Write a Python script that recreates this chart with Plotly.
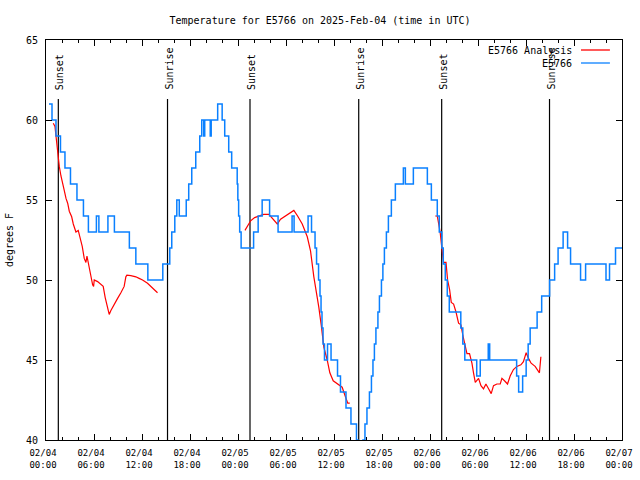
import pandas as pd
import plotly.graph_objects as go

BASE = pd.Timestamp("2025-02-04 00:00")

# Observations (E5766): hours since 2025-02-04 00:00 UTC where value changes, and value (deg F)
obs_hours = [0.37, 0.75, 1.25, 1.81, 2.37, 3.06, 3.87, 4.68, 5.30, 6.30, 6.61, 7.74, 8.55,
             10.42, 11.23, 12.73, 14.60, 15.47, 15.72, 16.10, 16.35, 16.66, 17.53, 17.84,
             18.22, 18.72, 19.22, 19.47, 19.72, 19.84, 20.53, 20.65, 21.46, 22.02, 22.34,
             22.84, 23.21, 23.90, 23.98, 24.08, 24.21, 24.39, 25.95, 26.52, 27.02, 27.95,
             29.01, 30.76, 31.01, 32.76, 33.19, 33.63, 33.82, 34.07, 34.25, 34.38, 34.50,
             34.63, 34.81, 35.19, 35.63, 36.44, 36.81, 37.50, 38.12, 38.81, 38.99, 39.62,
             39.87, 40.12, 40.43, 40.68, 40.87, 41.05, 41.24, 41.49, 41.68, 41.93, 42.11,
             42.30, 42.55, 42.80, 43.17, 43.67, 44.67, 44.92, 45.92, 47.67, 48.17, 48.91,
             49.16, 49.48, 49.66, 49.91, 50.16, 50.41, 51.85, 52.10, 52.35, 53.84, 54.28,
             55.28, 55.46, 58.83, 59.08, 59.58, 60.02, 60.27, 60.52, 61.39, 61.96, 62.95,
             63.58, 64.01, 64.64, 65.20, 65.57, 66.82, 67.45, 70.00, 70.44, 71.19, 72.00]
obs_temps = [61, 60, 59, 58, 57, 56, 55, 54, 53, 54, 53, 54, 53,
             52, 51, 50, 51, 52, 53, 54, 55, 54, 55, 56,
             57, 58, 59, 60, 59, 60, 59, 60, 61, 60, 59,
             58, 57, 56, 55, 54, 53, 52, 53, 54, 55, 54,
             53, 54, 53, 54, 53, 52, 51, 50, 49, 48, 47,
             46, 45, 46, 45, 44, 43, 42, 41, 40, 39, 40,
             41, 42, 43, 44, 45, 46, 47, 48, 49, 50, 51,
             52, 53, 54, 55, 56, 57, 56, 57, 56, 55, 54,
             53, 52, 51, 50, 49, 48, 47, 46, 45, 44, 45,
             46, 45, 44, 43, 44, 45, 46, 47, 48, 49, 50,
             51, 52, 53, 52, 51, 50, 51, 50, 51, 52, 52]

# Analysis (E5766 Analysis): hours since 2025-02-04 00:00 UTC; None marks gaps
ana_hours = [0.91, 1.12, 1.25, 1.37, 1.53, 1.66, 1.87, 2.08, 2.28, 2.50, 2.71, 2.91, 3.21,
             3.41, 3.74, 4.03, 4.28, 4.53, 4.78, 4.99, 5.12, 5.40, 5.62, 5.83, 5.95, 6.03,
             6.45, 6.86, 7.15, 7.40, 7.70, 7.90, 8.11, 8.52, 8.95, 9.36, 9.77, 9.98, 10.11,
             10.61, 11.23, 11.64, 12.07, 12.69, 13.10, 13.51, 13.94, 19.0,
             24.87, 25.21, 25.58, 26.08, 26.62, 27.20, 27.86, 28.33, 28.91, 29.32, 29.95,
             30.57, 30.98, 31.45, 32.03, 32.66, 33.07, 33.48, 33.82, 34.10, 34.40, 34.73,
             35.15, 35.48, 35.90, 36.40, 37.02, 37.43, 37.72, 37.97, 43.0,
             48.66, 48.91, 49.16, 49.29, 49.50, 49.70, 50.00, 50.20, 50.45, 50.66, 50.95,
             51.25, 51.57, 51.87, 52.12, 52.41, 52.62, 52.94, 53.24, 53.44, 53.66, 54.07,
             54.37, 54.69, 54.99, 55.32, 55.65, 55.94, 56.36, 56.78, 56.99, 57.31, 57.69,
             58.02, 58.43, 58.86, 59.36, 59.68, 60.02, 60.31, 60.64, 61.14, 61.68, 61.86]
ana_temps = [59.8, 59.6, 59.0, 58.3, 57.7, 57.1, 56.5, 56.1, 55.6, 55.1, 54.8, 54.3, 53.95,
             53.5, 53.0, 53.1, 52.6, 52.1, 51.35, 51.1, 51.5, 50.7, 50.1, 49.7, 49.6, 50.0,
             49.9, 49.7, 49.6, 48.9, 48.3, 47.85, 48.1, 48.5, 48.85, 49.2, 49.6, 50.2, 50.3,
             50.27, 50.2, 50.1, 50.0, 49.8, 49.6, 49.4, 49.2, None,
             53.1, 53.4, 53.7, 53.9, 54.0, 54.1, 54.1, 53.8, 53.5, 53.8, 54.0,
             54.2, 54.35, 54.0, 53.5, 52.7, 51.8, 50.2, 49.2, 48.3, 47.2, 45.8,
             45.0, 44.2, 43.7, 43.5, 43.3, 42.7, 42.3, 42.3, None,
             54.0, 54.0, 53.3, 52.9, 51.9, 51.1, 51.1, 50.0, 49.4, 48.6, 48.5,
             48.0, 47.3, 47.2, 46.5, 45.8, 45.4, 45.4, 44.8, 44.2, 43.6, 43.85,
             43.4, 43.2, 43.5, 43.2, 42.9, 43.4, 43.5, 43.5, 43.85, 43.7, 43.5,
             44.0, 44.4, 44.6, 44.7, 44.9, 45.45, 45.1, 44.8, 44.6, 44.2, 45.2]

# Sun events (hours since 2025-02-04 00:00 UTC)
sun_labels = ["Sunset", "Sunrise", "Sunset", "Sunrise", "Sunset", "Sunrise"]
sun_hours = [1.54, 15.19, 25.50, 39.09, 49.46, 62.94]

title_text = "Temperature for E5766 on 2025-Feb-04 (time in UTC)"
series_names = ["E5766 Analysis", "E5766"]
series_colors = ["#ff0000", "#0a80ff"]

FONT = "DejaVu Sans Mono"


def to_time(hours):
    return [BASE + pd.Timedelta(hours=h) for h in hours]


fig = go.Figure()
fig.add_trace(go.Scatter(x=to_time(ana_hours), y=ana_temps, mode="lines",
                         name=series_names[0], connectgaps=False,
                         line=dict(color=series_colors[0], width=1.2)))
fig.add_trace(go.Scatter(x=to_time(obs_hours), y=obs_temps, mode="lines",
                         name=series_names[1], line_shape="hv",
                         line=dict(color=series_colors[1], width=1.5)))

shapes = []
annotations = []
for lab, h in zip(sun_labels, sun_hours):
    t = BASE + pd.Timedelta(hours=h)
    shapes.append(dict(type="line", xref="x", yref="paper", x0=t, x1=t, y0=0, y1=0.8525,
                       line=dict(color="black", width=1.2), layer="below"))
    annotations.append(dict(x=t, y=0.87, xref="x", yref="paper", text=lab, showarrow=False,
                            textangle=-90, xanchor="center", yanchor="bottom", xshift=1,
                            font=dict(family=FONT, size=10, color="black")))

# custom legend (text right-aligned, sample line to the right)
leg_y = [0.975, 0.9425]
for name, col, yy in zip(series_names, series_colors, leg_y):
    annotations.append(dict(x=0.9167, y=yy, xref="paper", yref="paper", text=name,
                            showarrow=False, xanchor="right", yanchor="middle",
                            font=dict(family=FONT, size=10, color="black")))
    shapes.append(dict(type="line", xref="paper", yref="paper", x0=0.9288, x1=0.979,
                       y0=yy, y1=yy, line=dict(color=col, width=1.3)))

fig.update_layout(
    width=640, height=480,
    margin=dict(l=46, r=18, t=40, b=40),
    paper_bgcolor="white", plot_bgcolor="white",
    showlegend=False,
    title=dict(text=title_text, x=0.5, xanchor="center", y=0.958, yanchor="middle",
               font=dict(family=FONT, size=10, color="black")),
    font=dict(family=FONT, size=10, color="black"),
    shapes=shapes, annotations=annotations,
)

fig.update_xaxes(
    range=[BASE, BASE + pd.Timedelta(hours=72)],
    type="date", dtick=6 * 3600 * 1000, tick0=BASE,
    tickformat="%m/%d<br>%H:%M",
    ticks="inside", ticklen=6, tickwidth=1, tickcolor="black",
    minor=dict(dtick=2 * 3600 * 1000, ticks="inside", ticklen=3, tickcolor="black", showgrid=False),
    showline=True, linecolor="black", linewidth=1, mirror="allticks",
    showgrid=False, zeroline=False, automargin=False,
    ticklabelstandoff=4, ticklabelshift=-3,
    tickfont=dict(family=FONT, size=9, color="black"),
)
fig.update_yaxes(
    range=[40, 65], dtick=5,
    ticks="inside", ticklen=6, tickwidth=1, tickcolor="black",
    showline=True, linecolor="black", linewidth=1, mirror="allticks",
    showgrid=False, zeroline=False, automargin=False,
    ticklabelstandoff=5,
    title=dict(text="degrees F", font=dict(family=FONT, size=10, color="black"), standoff=10),
    tickfont=dict(family=FONT, size=10, color="black"),
)

fig.write_html("out.html")
